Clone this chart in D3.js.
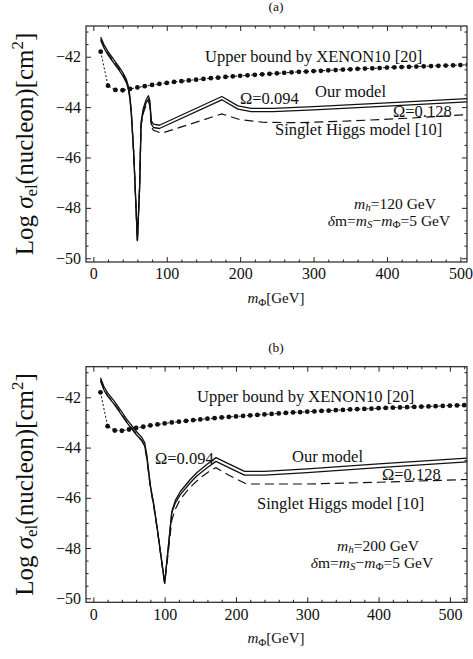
<!DOCTYPE html>
<html>
<head>
<meta charset="utf-8">
<script src="https://cdn.jsdelivr.net/npm/d3@7/dist/d3.min.js"></script>
<style>
body { margin: 0; background: #fff; }
svg text { font-family: "Liberation Serif", "Times New Roman", serif; fill: #111; }
</style>
</head>
<body>
<script>
// XENON10 upper bound (log sigma vs m_Phi in GeV)
var xenonMass = [10, 20, 30, 40, 50, 60, 70, 80, 90, 100, 110, 120, 130, 140, 150, 160, 170, 180, 190, 200,
                 210, 220, 230, 240, 250, 260, 270, 280, 290, 300, 310, 320, 330, 340, 350, 360, 370, 380, 390, 400,
                 410, 420, 430, 440, 450, 460, 470, 480, 490, 500, 510, 520];
var xenonLog = [-41.80, -43.15, -43.32, -43.33, -43.28, -43.22, -43.17, -43.12, -43.08, -43.04, -43.00, -42.97, -42.94, -42.91, -42.88, -42.85, -42.83, -42.80, -42.78, -42.76,
                -42.74, -42.72, -42.70, -42.68, -42.66, -42.64, -42.62, -42.60, -42.59, -42.57, -42.56, -42.54, -42.53, -42.51, -42.50, -42.48, -42.47, -42.46, -42.45, -42.43,
                -42.42, -42.41, -42.40, -42.39, -42.38, -42.37, -42.36, -42.35, -42.34, -42.33, -42.32, -42.31];

// panel (a): m_h = 120 GeV
var ourA094 = [[10,-41.22],[15,-41.55],[20,-41.8],[25,-42.0],[30,-42.2],[35,-42.4],[40,-42.62],[45,-42.9],[48,-43.2],[50,-43.6],
               [52,-44.3],[55,-45.8],[57,-47.2],[60,-49.3],[63,-47.2],[65,-44.6],[68,-44.05],[72,-43.7],[75,-43.55],[77,-43.75],
               [79,-44.55],[82,-44.68],[90,-44.72],[175,-43.58],[197,-43.95],[215,-44.05],[245,-44.05],[300,-43.98],[400,-43.83],[510,-43.66]];
var ourA128 = [[10,-41.35],[15,-41.68],[20,-41.93],[25,-42.13],[30,-42.33],[35,-42.53],[40,-42.75],[45,-43.03],[48,-43.33],[50,-43.72],
               [52,-44.4],[55,-45.85],[57,-47.2],[60,-49.3],[63,-47.2],[65,-44.7],[68,-44.17],[72,-43.82],[75,-43.68],[77,-43.88],
               [79,-44.68],[82,-44.81],[90,-44.85],[175,-43.71],[197,-44.08],[215,-44.18],[245,-44.18],[300,-44.11],[400,-43.96],[510,-43.79]];
var singletA = [[10,-41.3],[15,-41.63],[20,-41.88],[25,-42.08],[30,-42.28],[35,-42.48],[40,-42.7],[45,-42.98],[48,-43.28],[50,-43.68],
                [52,-44.4],[55,-45.85],[57,-47.2],[60,-49.3],[63,-47.2],[65,-44.75],[68,-44.25],[72,-43.9],[75,-43.76],[77,-43.95],
                [79,-44.8],[82,-44.92],[93,-45.04],[175,-44.27],[200,-44.5],[230,-44.6],[280,-44.62],[350,-44.55],[430,-44.44],[510,-44.3]];

// panel (b): m_h = 200 GeV
var ourB094 = [[10,-41.22],[15,-41.58],[20,-41.82],[28,-42.1],[35,-42.38],[47,-42.88],[60,-43.35],[68,-43.6],[72,-43.8],[75,-44.3],
               [80,-45.5],[85,-46.3],[90,-47.3],[95,-48.35],[100,-49.4],[105,-48.0],[110,-46.55],[115,-46.1],[122,-45.75],[135,-45.3],
               [145,-45.0],[160,-44.65],[172,-44.4],[190,-44.65],[212,-44.95],[240,-44.95],[300,-44.85],[400,-44.65],[525,-44.42]];
var ourB128 = [[10,-41.35],[15,-41.71],[20,-41.95],[28,-42.23],[35,-42.51],[47,-43.01],[60,-43.48],[68,-43.73],[72,-43.93],[75,-44.4],
               [80,-45.55],[85,-46.35],[90,-47.3],[95,-48.35],[100,-49.4],[105,-48.0],[110,-46.6],[115,-46.2],[122,-45.87],[135,-45.43],
               [145,-45.13],[160,-44.79],[172,-44.55],[190,-44.8],[212,-45.1],[240,-45.1],[300,-45.0],[400,-44.8],[525,-44.57]];
var singletB = [[10,-41.3],[15,-41.68],[20,-41.92],[28,-42.2],[35,-42.48],[47,-42.98],[60,-43.45],[68,-43.72],[72,-43.95],[75,-44.45],
                [80,-45.6],[85,-46.4],[90,-47.35],[95,-48.4],[100,-49.4],[105,-48.2],[110,-46.9],[115,-46.45],[122,-46.05],[135,-45.6],
                [150,-45.2],[165,-44.9],[172,-44.8],[190,-45.1],[215,-45.45],[300,-45.45],[400,-45.38],[525,-45.27]];

var xTickLabels = [0, 100, 200, 300, 400, 500];
var yTickLabels = [-50, -48, -46, -44, -42];

var svg = d3.select("body").append("svg")
    .attr("width", 473)
    .attr("height", 659);

function drawPanel(p) {
    var x = d3.scaleLinear().domain(p.xdom).range([p.left, p.right]);
    var y = d3.scaleLinear().domain(p.ydom).range([p.bottom, p.top]);
    var g = svg.append("g");

    g.append("clipPath").attr("id", "clip" + p.id)
        .append("rect")
        .attr("x", p.left).attr("y", p.top)
        .attr("width", p.right - p.left).attr("height", p.bottom - p.top);

    // ticks on all four sides, pointing inward
    var xMinor = d3.range(0, p.xdom[1], 20).filter(function (v) { return v % 100 != 0; });
    var yMinor = d3.range(-50, p.ydom[1], 0.5).filter(function (v) { return v % 2 != 0; });

    function axis(gen, scale, vals, size, pos, labelled, pad) {
        var a = gen(scale).tickValues(vals).tickSize(-size).tickPadding(pad || 6);
        if (!labelled) a.tickFormat("");
        var ga = g.append("g").attr("transform", pos).call(a);
        ga.select(".domain").remove();
        ga.selectAll("line").attr("stroke", "#222").attr("stroke-width", 1);
        ga.selectAll("text").attr("font-size", 16).attr("fill", "#111")
            .style("font-family", '"Liberation Serif", "Times New Roman", serif');
        return ga;
    }
    axis(d3.axisBottom, x, xTickLabels, 5, "translate(0," + p.bottom + ")", true, 6);
    axis(d3.axisBottom, x, xMinor, 2.5, "translate(0," + p.bottom + ")", false);
    axis(d3.axisTop, x, xTickLabels, 5, "translate(0," + p.top + ")", false);
    axis(d3.axisTop, x, xMinor, 2.5, "translate(0," + p.top + ")", false);
    axis(d3.axisLeft, y, yTickLabels, 5, "translate(" + p.left + ",0)", true, 5);
    axis(d3.axisLeft, y, yMinor, 2.5, "translate(" + p.left + ",0)", false);
    axis(d3.axisRight, y, yTickLabels, 5, "translate(" + p.right + ",0)", false);
    axis(d3.axisRight, y, yMinor, 2.5, "translate(" + p.right + ",0)", false);

    var plot = g.append("g").attr("clip-path", "url(#clip" + p.id + ")");
    var line = d3.line().x(function (d) { return x(d[0]); }).y(function (d) { return y(d[1]); });

    var xen = xenonMass.map(function (m, i) { return [m, xenonLog[i]]; });
    plot.append("path").datum(xen)
        .attr("d", line).attr("fill", "none")
        .attr("stroke", "#111").attr("stroke-width", 1).attr("stroke-dasharray", "2,2");
    plot.selectAll("circle.xen").data(xen).enter().append("circle")
        .attr("class", "xen")
        .attr("cx", function (d) { return x(d[0]); })
        .attr("cy", function (d) { return y(d[1]); })
        .attr("r", 2.4).attr("fill", "#111");

    plot.append("path").datum(p.singlet)
        .attr("d", line).attr("fill", "none")
        .attr("stroke", "#111").attr("stroke-width", 1.2).attr("stroke-dasharray", "9,5");
    [p.our094, p.our128].forEach(function (s) {
        plot.append("path").datum(s)
            .attr("d", line).attr("fill", "none")
            .attr("stroke", "#111").attr("stroke-width", 1.3).attr("stroke-linejoin", "round");
    });

    g.append("rect")
        .attr("x", p.left).attr("y", p.top)
        .attr("width", p.right - p.left).attr("height", p.bottom - p.top)
        .attr("fill", "none").attr("stroke", "#222").attr("stroke-width", 1.2);

    // text annotations
    function txt(str, tx, ty, size, anchor) {
        return g.append("text").attr("x", tx).attr("y", ty)
            .attr("font-size", size).attr("text-anchor", anchor || "start").text(str);
    }
    txt(p.title, 276, p.top - 15, 13.5, "middle");
    txt("Upper bound by XENON10 [20]", p.xenonLabel[0], p.xenonLabel[1], 16.5);
    txt("Our model", p.ourLabel[0], p.ourLabel[1], 16.5);
    txt("\u03A9=0.094", p.om1Label[0], p.om1Label[1], 16.5);
    txt("\u03A9=0.128", p.om2Label[0], p.om2Label[1], 16.5);
    txt("Singlet Higgs model [10]", p.singletLabel[0], p.singletLabel[1], 16.5);

    var t1 = g.append("text").attr("x", p.massLabel[0]).attr("y", p.massLabel[1] - 2)
        .attr("font-size", 15.5).attr("text-anchor", "middle");
    t1.append("tspan").attr("font-style", "italic").text("m");
    t1.append("tspan").attr("font-style", "italic").attr("font-size", 11).attr("dy", 2).text("h");
    t1.append("tspan").attr("dy", -2).text("=" + p.mh + " GeV");

    var t2 = g.append("text").attr("x", p.massLabel[0] - 6).attr("y", p.massLabel[1] + 15)
        .attr("font-size", 15.5).attr("text-anchor", "middle");
    t2.append("tspan").attr("font-style", "italic").text("\u03B4");
    t2.append("tspan").text("m=");
    t2.append("tspan").attr("font-style", "italic").text("m");
    t2.append("tspan").attr("font-style", "italic").attr("font-size", 11).attr("dy", 2).text("S");
    t2.append("tspan").attr("dy", -2).text("\u2212");
    t2.append("tspan").attr("font-style", "italic").text("m");
    t2.append("tspan").attr("font-size", 11).attr("dy", 2).text("\u03A6");
    t2.append("tspan").attr("dy", -2).text("=5 GeV");

    // x axis title
    var xl = g.append("text").attr("x", 276).attr("y", p.bottom + 41)
        .attr("font-size", 15).attr("text-anchor", "middle");
    xl.append("tspan").attr("font-style", "italic").text("m");
    xl.append("tspan").attr("font-size", 11).attr("dy", 3).text("\u03A6");
    xl.append("tspan").attr("dy", -3).text("[GeV]");

    // y axis title
    var cy = (p.top + p.bottom) / 2;
    var yl = g.append("text")
        .attr("transform", "translate(33," + cy + ") rotate(-90)")
        .attr("font-size", 25).attr("text-anchor", "middle");
    yl.append("tspan").text("Log ");
    yl.append("tspan").attr("font-style", "italic").text("\u03C3");
    yl.append("tspan").attr("font-size", 17).attr("dy", 4).text("el");
    yl.append("tspan").attr("dy", -4).text("(nucleon)[cm");
    yl.append("tspan").attr("font-size", 17).attr("dy", -10).text("2");
    yl.append("tspan").attr("dy", 10).text("]");
}

drawPanel({
    id: "a", title: "(a)", mh: 120,
    left: 86, right: 467, top: 26, bottom: 262,
    xdom: [-10, 509], ydom: [-50.15, -40.78],
    our094: ourA094, our128: ourA128, singlet: singletA,
    xenonLabel: [205, 62], ourLabel: [315, 97], om1Label: [240, 104], om2Label: [393, 117],
    singletLabel: [275, 135], massLabel: [395, 211]
});

drawPanel({
    id: "b", title: "(b)", mh: 200,
    left: 86, right: 467, top: 366.7, bottom: 602.3,
    xdom: [-10.3, 524], ydom: [-50.16, -40.78],
    our094: ourB094, our128: ourB128, singlet: singletB,
    xenonLabel: [197, 402], ourLabel: [292, 462], om1Label: [155, 464], om2Label: [382, 480],
    singletLabel: [257, 509], massLabel: [378, 553]
});
</script>
</body>
</html>
